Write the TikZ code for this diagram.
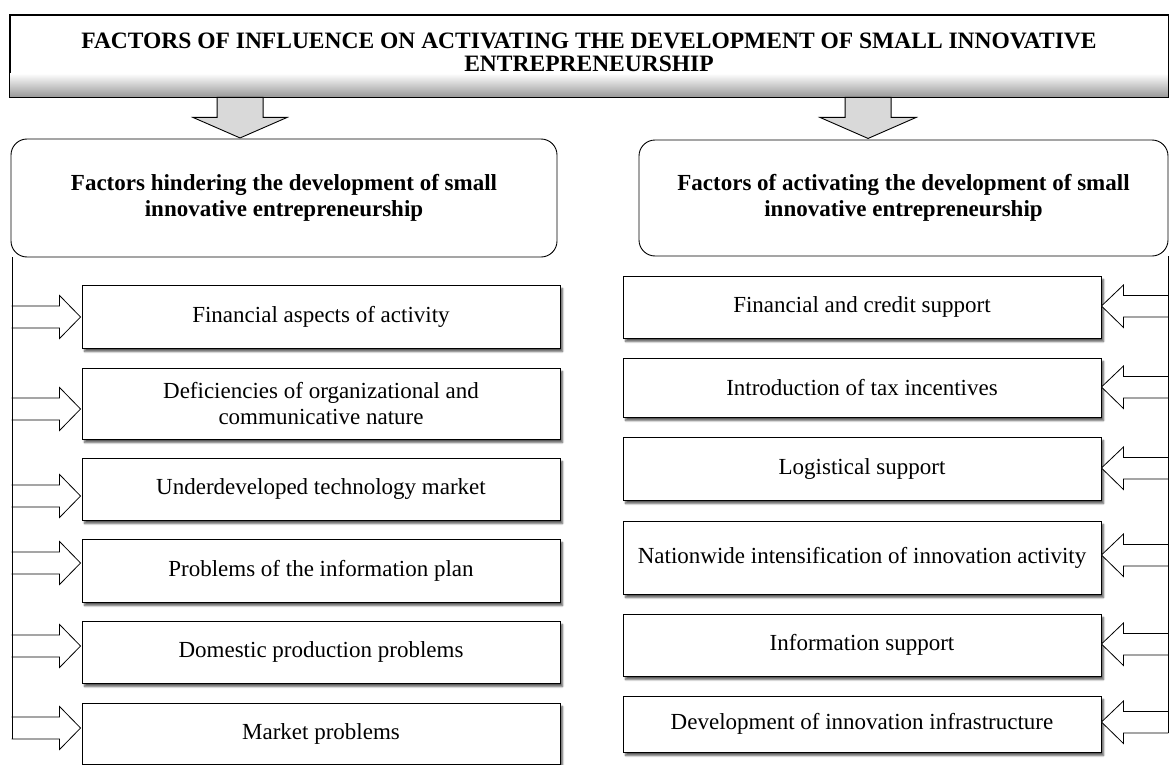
\documentclass[tikz,border=0pt]{standalone}
\usepackage{fontspec}
\setmainfont{Liberation Serif}
\usetikzlibrary{positioning, calc, shadows.blur}

\begin{document}
\begin{tikzpicture}[x=1pt, y=-1pt,
  txt/.style={font=\fontsize{23}{26.5}\selectfont, align=center},
  titlebox/.style={draw, line width=0.9pt, fill=white, minimum width=1158pt, minimum height=82pt, inner sep=0pt},
  titletext/.style={inner sep=0pt, align=center, font=\fontsize{23.5}{23}\selectfont\bfseries},
  headbox/.style={draw, line width=0.9pt, rounded corners=16pt, inner sep=0pt, txt, font=\fontsize{23}{26.5}\selectfont\bfseries},
  factbox/.style={draw, line width=0.9pt, fill=white, minimum width=478pt, inner sep=0pt, txt,
    blur shadow={shadow xshift=2.5pt, shadow yshift=-3.5pt, shadow blur steps=6, shadow opacity=65}},
  blockarr/.style={draw, line width=0.8pt, fill=white},
  downarr/.style={draw, line width=0.9pt, fill=gray!30}
]
\useasboundingbox (0,0) rectangle (1169,765);

% Title
\node[titlebox] (title) at (589,56) {};
\shade[top color=white, bottom color=gray!80] ($(title.south west)+(0.5,-24)$) rectangle ($(title.south east)+(-0.5,-0.5)$);
\draw[line width=0.9pt] (title.south west) rectangle (title.north east);
\node[titletext] (titletxt) at (589,52) {FACTORS OF INFLUENCE ON ACTIVATING THE DEVELOPMENT OF SMALL INNOVATIVE\\ENTREPRENEURSHIP};

% Arrows down to the two groups
\coordinate (ldown) at ($(title.south west)+(230.5,0)$);
\coordinate (rdown) at ($(title.south west)+(858.5,0)$);
\draw[downarr] ($(ldown)+(-23,0)$) -- ++(0,20) -- ++(-24,0) -- ++(47,20.5) -- ++(47,-20.5) -- ++(-24,0) -- ++(0,-20) -- cycle;
\draw[downarr] ($(rdown)+(-23,0)$) -- ++(0,20) -- ++(-25,0) -- ++(48,21) -- ++(48,-21) -- ++(-25,0) -- ++(0,-20) -- cycle;

% Group headings
\node[headbox, minimum width=546pt, minimum height=118pt] (hinder) at (284,198) {Factors hindering the development of small\\innovative entrepreneurship};
\node[headbox, minimum width=529pt, minimum height=116pt] (activ) at (903.5,198) {Factors of activating the development of small\\innovative entrepreneurship};

% Hindering factors
\node[factbox, minimum height=63pt] (h1) at (321,316.5) {Financial aspects of activity};
\node[factbox, minimum height=71pt] (h2) at (321,403.5) {Deficiencies of organizational and\\communicative nature};
\node[factbox, minimum height=62pt] (h3) at (321,489) {Underdeveloped technology market};
\node[factbox, minimum height=63pt] (h4) at (321,570.5) {Problems of the information plan};
\node[factbox, minimum height=62pt] (h5) at (321,652) {Domestic production problems};
\node[factbox, minimum height=61pt] (h6) at (321,733.5) {Market problems};

% Activating factors
\node[factbox, minimum height=62pt] (a1) at (862,307) {Financial and credit support};
\node[factbox, minimum height=59pt] (a2) at (862,387.5) {Introduction of tax incentives};
\node[factbox, minimum height=63pt] (a3) at (862,468.5) {Logistical support};
\node[factbox, minimum height=73pt] (a4) at (862,557.5) {Nationwide intensification of innovation activity};
\node[factbox, minimum height=62pt] (a5) at (862,645) {Information support};
\node[factbox, minimum height=56pt] (a6) at (862,724) {Development of innovation infrastructure};

% Block arrows into the boxes
\foreach \b/\dy in {h1/0.5, h2/5.5, h3/7, h4/-7.5, h5/-6, h6/-5.5}{
  \draw[blockarr] ($(\b.west)+(-70,\dy-11)$) -- ++(48,0) -- ++(0,-10.5) -- ($(\b.west)+(-1,\dy)$) -- ++(-21,21.5) -- ++(0,-10.5) -- ++(-48,0);
}
\foreach \b/\dy in {a1/-1, a2/-0.5, a3/-0.5, a4/-2.5, a5/-1, a6/-2}{
  \draw[blockarr] ($(\b.east)+(67,\dy-10.5)$) -- ++(-45,0) -- ++(0,-10.5) -- ($(\b.east)+(0,\dy)$) -- ++(22,21.5) -- ++(0,-10.5) -- ++(45,0);
}

% Side lines
\coordinate (lbus) at (12,739);
\coordinate (rbus) at (1168,733);
\draw[line width=0.9pt] (hinder.south west -| lbus) -- (lbus);
\draw[line width=0.9pt] (activ.south east -| rbus) -- (rbus);
\end{tikzpicture}
\end{document}
